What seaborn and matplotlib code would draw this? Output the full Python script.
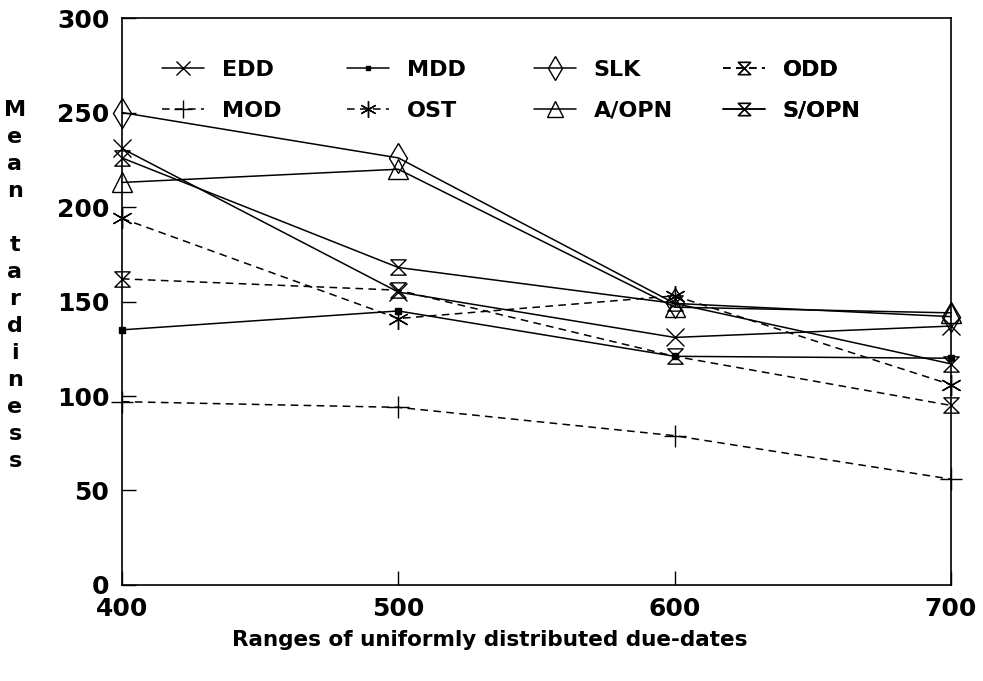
import numpy as np
import pandas as pd
import matplotlib
matplotlib.use("Agg")
import matplotlib.pyplot as plt
from matplotlib.path import Path
import seaborn as sns

# Ranges of uniformly distributed due-dates
ranges = [400, 500, 600, 700]

# Mean tardiness for each dispatching rule
edd = [231, 155, 131, 137]
mdd = [135, 145, 121, 120]
slk = [250, 226, 149, 142]
odd = [162, 156, 121, 95]
mod = [97, 94, 79, 56]
ost = [194, 141, 153, 106]
a_opn = [213, 220, 147, 144]
s_opn = [226, 168, 149, 117]

y_ticks = [0, 50, 100, 150, 200, 250, 300]
x_ticks = [400, 500, 600, 700]

sns.set_theme(style="white")
plt.rcParams["font.family"] = ["DejaVu Sans"]
plt.rcParams["font.weight"] = "bold"
for key in ("text.color", "axes.labelcolor", "xtick.color", "ytick.color"):
    plt.rcParams[key] = "black"

# hourglass marker: two triangles meeting at their tips
hourglass = Path([(-1, 1), (1, 1), (-1, -1), (1, -1), (-1, 1)],
                 [Path.MOVETO, Path.LINETO, Path.LINETO, Path.LINETO, Path.CLOSEPOLY])

series = [
    ("EDD", edd, "x", "-", 13, "none"),
    ("MOD", mod, "+", "--", 16, "none"),
    ("MDD", mdd, "s", "-", 4, "black"),
    ("OST", ost, (6, 2, 0), "--", 15, "none"),
    ("SLK", slk, "d", "-", 15, "none"),
    ("A/OPN", a_opn, "^", "-", 14, "none"),
    ("ODD", odd, hourglass, "--", 11, "none"),
    ("S/OPN", s_opn, hourglass, "-", 11, "none"),
]

fig = plt.figure(figsize=(9.83, 6.81), dpi=100)
ax = fig.add_axes([0.124, 0.141, 0.8435, 0.8325])

for name, vals, mk, ls, ms, fc in series:
    df = pd.DataFrame({"range": ranges, "tard": vals})
    sns.lineplot(data=df, x="range", y="tard", ax=ax, color="black",
                 linewidth=1.1, marker=mk, markersize=ms,
                 markerfacecolor=fc, markeredgecolor="black",
                 markeredgewidth=1.0, label=name, clip_on=False)
    ln = ax.get_lines()[-1]
    if ls == "--":
        ln.set_linestyle((0, (5, 3.5)))

ax.set_xlim(400, 700)
ax.set_ylim(0, 300)
ax.set_xticks(x_ticks)
ax.set_yticks(y_ticks)
ax.tick_params(direction="in", length=10, width=1, labelsize=18,
               bottom=True, left=True, colors="black")
ax.tick_params(axis="y", pad=9)
ax.tick_params(axis="x", pad=9)
for lab in ax.get_xticklabels() + ax.get_yticklabels():
    lab.set_fontweight("bold")
for sp in ax.spines.values():
    sp.set_color("black")
    sp.set_linewidth(1.2)

ax.set_xlabel("Ranges of uniformly distributed due-dates", fontsize=15.5,
              fontweight="bold", color="black")
ax.xaxis.set_label_coords(0.444, -0.097)
ax.xaxis.label.set_va("center")
ax.set_ylabel("")

# vertical stacked y-axis title, one letter per line
ylabel = "Mean tardiness"
top_px, step_px = 110, 27.0
for i, ch in enumerate(ylabel):
    if ch == " ":
        continue
    fig.text(15 / 983, 1 - (top_px + i * step_px) / 681, ch, fontsize=16,
             fontweight="bold", ha="center", va="center", color="black")

# legend: four fixed columns of two entries each
handles, labels = ax.get_legend_handles_labels()
ax.get_legend().remove()
col_x = [163, 348, 535, 724]
for c in range(4):
    leg = ax.legend(handles[2 * c:2 * c + 2], labels[2 * c:2 * c + 2],
                    loc="upper left",
                    bbox_to_anchor=((col_x[c] - 122 - 19) / 829, (585 - 42) / 567),
                    frameon=False, handlelength=1.9, handletextpad=0.8,
                    labelspacing=0.95, borderpad=0.3, markerscale=0.8,
                    prop={"weight": "bold", "size": 16})
    for t in leg.get_texts():
        t.set_color("black")
    ax.add_artist(leg)

fig.savefig("out.png", dpi=100)
